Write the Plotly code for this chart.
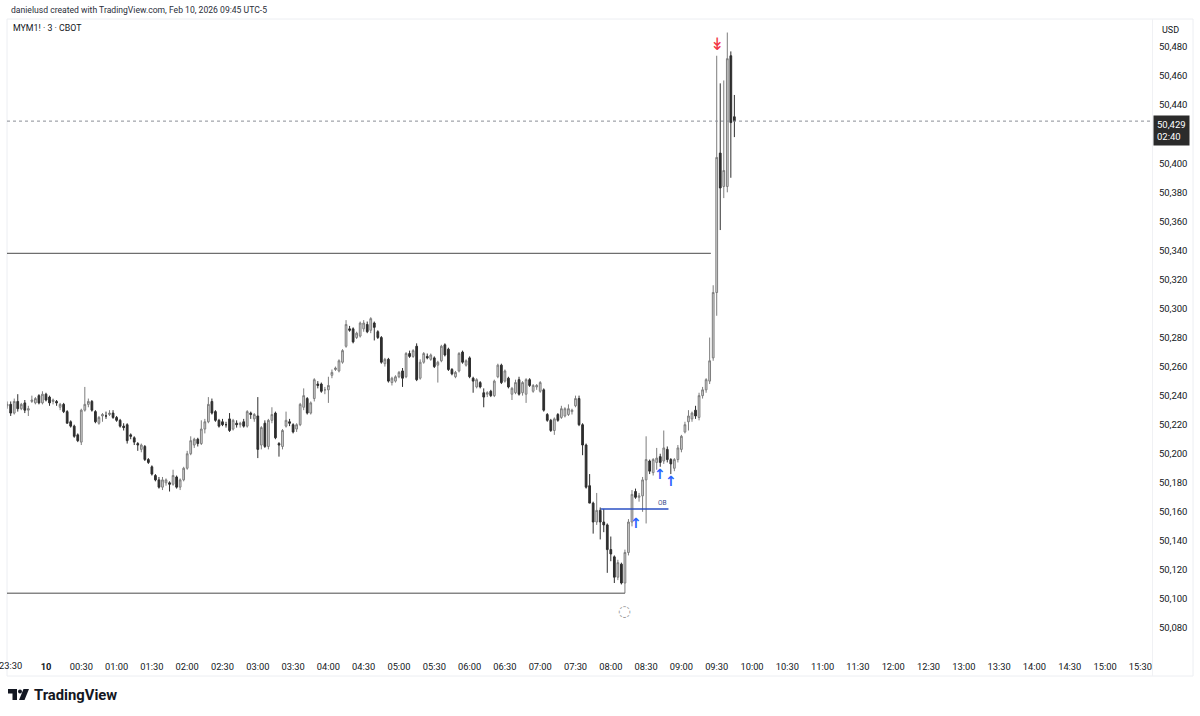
import pandas as pd
import plotly.graph_objects as go

# ---------------- data ----------------
start_time = "2026-02-09 23:27"
bar_minutes = 3

opens = [
50233,50234,50228,50236,50231,50235,50230,50236,50235,50240,50235,50241,50239,50236,50236,50232,50234,50229,50222,50219,
50213,50208,50230,50234,50236,50229,50221,50226,50226,50227,50228,50225,50223,50219,50220,50213,50211,50207,50203,50205,
50196,50191,50185,50182,50177,50180,50180,50179,50184,50177,50182,50190,50200,50206,50210,50207,50217,50222,50236,50229,
50223,50222,50220,50224,50217,50221,50220,50222,50219,50228,50224,50226,50206,50221,50205,50223,50228,50207,50205,50219,
50222,50220,50217,50220,50232,50238,50228,50238,50248,50248,50244,50244,50254,50258,50257,50263,50274,50286,50286,50280,
50281,50286,50289,50285,50290,50284,50280,50262,50265,50249,50250,50253,50257,50253,50269,50267,50274,50252,50263,50267,
50265,50266,50261,50264,50275,50272,50258,50253,50257,50270,50261,50266,50252,50246,50249,50242,50241,50243,50240,50253,
50261,50250,50252,50241,50242,50251,50242,50241,50251,50243,50246,50243,50244,50227,50223,50216,50227,50225,50226,50227,
50229,50233,50238,50220,50206,50178,50166,50153,50161,50153,50151,50134,50129,50115,50124,50111,50132,50153,50174,50170,
50171,50182,50195,50187,50194,50198,50195,50203,50196,50190,50196,50203,50215,50222,50224,50230,50225,50240,50244,50250,
50266,50311,50407,50384,50384,50474,50432]
highs = [
50236,50236,50238,50241,50235,50237,50233,50240,50239,50241,50243,50242,50240,50238,50237,50235,50235,50230,50223,50220,
50214,50231,50246,50238,50237,50230,50226,50228,50229,50230,50230,50226,50224,50221,50221,50214,50212,50208,50207,50206,
50197,50192,50186,50184,50184,50183,50181,50189,50185,50183,50191,50202,50212,50211,50211,50223,50224,50239,50238,50230,
50224,50224,50222,50228,50224,50223,50222,50224,50230,50229,50228,50239,50219,50223,50224,50232,50229,50208,50217,50229,
50224,50221,50221,50235,50245,50239,50236,50252,50250,50249,50246,50253,50258,50260,50265,50272,50292,50288,50287,50284,
50291,50292,50291,50294,50291,50285,50281,50266,50266,50253,50254,50257,50259,50270,50271,50272,50276,50265,50270,50269,
50269,50267,50264,50275,50276,50273,50259,50257,50270,50271,50265,50267,50253,50252,50250,50245,50243,50244,50251,50262,
50262,50258,50253,50246,50251,50253,50250,50252,50252,50248,50248,50250,50245,50228,50224,50225,50228,50233,50232,50234,
50231,50240,50240,50221,50207,50186,50167,50173,50163,50162,50152,50143,50130,50127,50125,50134,50155,50175,50176,50173,
50184,50212,50196,50197,50204,50200,50216,50205,50197,50197,50206,50213,50222,50230,50229,50233,50242,50246,50252,50280,
50316,50474,50455,50457,50490,50477,50447]
lows = [
50231,50226,50227,50229,50230,50228,50226,50235,50234,50234,50234,50236,50233,50234,50233,50230,50228,50221,50218,50211,
50208,50206,50229,50232,50229,50221,50220,50222,50224,50226,50224,50222,50218,50216,50207,50210,50206,50202,50201,50195,
50193,50185,50181,50176,50175,50178,50174,50178,50176,50175,50181,50189,50199,50204,50205,50206,50214,50221,50227,50222,
50218,50219,50218,50215,50216,50218,50218,50218,50218,50224,50222,50197,50203,50204,50203,50221,50210,50198,50203,50218,
50219,50214,50215,50219,50230,50227,50227,50236,50245,50242,50241,50235,50252,50257,50256,50262,50273,50284,50276,50279,
50280,50284,50283,50283,50278,50279,50262,50260,50249,50247,50249,50252,50246,50252,50266,50266,50250,50251,50262,50265,
50264,50259,50249,50263,50267,50257,50254,50252,50256,50262,50260,50252,50242,50245,50245,50232,50239,50239,50239,50252,
50248,50249,50245,50237,50241,50240,50240,50235,50246,50242,50244,50242,50229,50222,50215,50213,50222,50224,50225,50226,
50227,50232,50219,50199,50176,50166,50145,50151,50141,50146,50118,50126,50111,50113,50110,50104,50130,50150,50169,50167,
50160,50152,50186,50185,50189,50191,50193,50194,50186,50188,50194,50201,50214,50216,50222,50224,50223,50238,50242,50248,
50264,50295,50354,50376,50380,50390,50418]
closes = [
50234,50228,50236,50231,50234,50230,50231,50237,50238,50235,50241,50237,50235,50237,50235,50234,50229,50221,50219,50212,
50209,50230,50234,50236,50230,50222,50225,50227,50226,50228,50225,50223,50219,50218,50209,50212,50208,50206,50206,50196,
50194,50186,50182,50177,50182,50182,50179,50185,50177,50182,50190,50200,50209,50210,50207,50217,50222,50234,50228,50223,
50219,50220,50220,50216,50223,50220,50221,50219,50229,50227,50227,50203,50218,50205,50223,50227,50211,50206,50216,50223,
50221,50215,50220,50234,50240,50228,50235,50251,50247,50243,50244,50247,50256,50259,50264,50271,50289,50285,50277,50283,
50290,50290,50284,50293,50287,50280,50263,50265,50250,50252,50253,50256,50252,50269,50267,50271,50251,50263,50269,50266,
50268,50260,50263,50274,50268,50258,50255,50256,50269,50263,50264,50253,50250,50251,50246,50239,50242,50240,50250,50261,
50249,50257,50246,50245,50249,50241,50249,50251,50247,50247,50247,50249,50230,50223,50216,50224,50223,50231,50231,50231,
50230,50238,50220,50206,50177,50166,50153,50161,50153,50151,50134,50131,50115,50125,50111,50132,50153,50172,50170,50171,
50182,50196,50188,50196,50197,50194,50204,50196,50193,50196,50204,50212,50220,50226,50228,50226,50240,50244,50251,50264,
50311,50404,50383,50395,50472,50428,50429]

price_ticks = [50080, 50100, 50120, 50140, 50160, 50180, 50200, 50220, 50240, 50260,
               50280, 50300, 50320, 50340, 50360, 50380, 50400, 50440, 50460, 50480]
time_tick_labels = ["<b>10</b>", "00:30", "01:00", "01:30", "02:00", "02:30", "03:00",
                    "03:30", "04:00", "04:30", "05:00", "05:30", "06:00", "06:30", "07:00",
                    "07:30", "08:00", "08:30", "09:00", "09:30", "10:00", "10:30", "11:00",
                    "11:30", "12:00", "12:30", "13:00", "13:30", "14:00", "14:30", "15:00", "15:30"]
edge_tick_label = "23:30"
edge_tick_time = "2026-02-09 23:30"

last_price = 50429
countdown = "02:40"
upper_level = 50338
upper_level_end = "2026-02-10 09:25"
lower_level = 50104
lower_level_end = "2026-02-10 08:12"
ob_level = 50162
ob_start = "2026-02-10 07:51:30"
ob_end = "2026-02-10 08:49"
buy_signal_times = ["2026-02-10 08:21", "2026-02-10 08:42", "2026-02-10 08:51"]
buy_signal_prices = [50152, 50186, 50181]
sell_signal_time = "2026-02-10 09:30"
sell_signal_price = 50482
pivot_time = "2026-02-10 08:12"
pivot_price = 50092

x_range = ["2026-02-09 23:26:52", "2026-02-10 15:39:55"]
y_range = [50063.5, 50500]

# ---------------- figure ----------------
times = pd.date_range(start_time, periods=len(closes), freq=f"{bar_minutes}min")
tick_times = pd.date_range("2026-02-10 00:00", periods=len(time_tick_labels), freq="30min")

W, H = 1200, 716
ML, MR, MT, MB = 7, 48, 18, 64
PW, PH = W - ML - MR, H - MT - MB


def px(xp):
    return (xp - ML) / PW


def py(yp):
    return (H - MB - yp) / PH


FONT = "Roboto, 'Noto Sans', sans-serif"
TXT = "#131722"

fig = go.Figure()
fig.add_trace(go.Candlestick(
    x=times, open=opens, high=highs, low=lows, close=closes,
    increasing=dict(line=dict(color="#7d7d7d", width=1), fillcolor="#d7d7d7"),
    decreasing=dict(line=dict(color="#2e2e2e", width=1), fillcolor="#2e2e2e"),
    whiskerwidth=0, showlegend=False, hoverinfo="skip",
))

shapes = [
    dict(type="line", xref="x", yref="y", x0=x_range[0], x1=upper_level_end,
         y0=upper_level, y1=upper_level, line=dict(color="#4a4a4a", width=1)),
    dict(type="line", xref="x", yref="y", x0=x_range[0], x1=lower_level_end,
         y0=lower_level, y1=lower_level, line=dict(color="#4a4a4a", width=1)),
    dict(type="line", xref="x", yref="y", x0=ob_start, x1=ob_end,
         y0=ob_level, y1=ob_level, line=dict(color="#2b50c4", width=1.5)),
    dict(type="line", xref="paper", yref="y", x0=0, x1=1,
         y0=last_price, y1=last_price, line=dict(color="#8a8d96", width=1, dash="dot")),
    # frame
    dict(type="rect", xref="paper", yref="paper", x0=px(7), x1=px(1193), y0=py(676), y1=py(19),
         line=dict(color="#eceef2", width=1), layer="below"),
    dict(type="line", xref="paper", yref="paper", x0=px(1152.5), x1=px(1152.5), y0=py(676), y1=py(19),
         line=dict(color="#f0f1f4", width=1), layer="below"),
    # TradingView logo glyph
    dict(type="path", xref="paper", yref="paper",
         path=f"M {px(8)} {py(689)} L {px(17)} {py(689)} L {px(17)} {py(700)} L {px(12.5)} {py(700)} "
              f"L {px(12.5)} {py(693.5)} L {px(8)} {py(693.5)} Z",
         fillcolor=TXT, line=dict(width=0)),
    dict(type="circle", xref="paper", yref="paper", x0=px(18), x1=px(22), y0=py(693.5), y1=py(689.5),
         fillcolor=TXT, line=dict(width=0)),
    dict(type="path", xref="paper", yref="paper",
         path=f"M {px(23.5)} {py(689)} L {px(29)} {py(689)} L {px(24.5)} {py(700)} L {px(19)} {py(700)} Z",
         fillcolor=TXT, line=dict(width=0)),
]

annotations = [
    dict(xref="paper", yref="paper", x=px(9), y=py(10), xanchor="left", yanchor="middle",
         text="danielusd created with TradingView.com, Feb 10, 2026 09:45 UTC-5",
         showarrow=False, font=dict(size=8.6, color="#2a2e39", family=FONT)),
    dict(xref="paper", yref="paper", x=px(11), y=py(28), xanchor="left", yanchor="middle",
         text="MYM1! · 3 · CBOT", showarrow=False, font=dict(size=8.8, color=TXT, family=FONT)),
    dict(xref="paper", yref="paper", x=px(1170.5), y=py(30), xanchor="center", yanchor="middle",
         text="USD", showarrow=False, font=dict(size=9, color=TXT, family=FONT)),
    dict(xref="paper", yref="paper", x=px(32), y=py(695), xanchor="left", yanchor="middle",
         text="<b>TradingView</b>", showarrow=False, font=dict(size=14.8, color=TXT, family=FONT)),
    dict(xref="x", yref="paper", x=edge_tick_time, y=py(665.5), xanchor="center", yanchor="middle",
         text=edge_tick_label, showarrow=False, font=dict(size=9.3, color=TXT, family=FONT)),
    dict(xref="paper", yref="y", x=px(1153), y=last_price + 4.5, xanchor="left", yanchor="top",
         text=f"{last_price:,}<br>{countdown}", showarrow=False, align="left",
         bgcolor="#2b2b2b", borderpad=3,
         font=dict(size=9.5, color="#ffffff", family=FONT)),
    dict(xref="x", yref="y", x=sell_signal_time, y=sell_signal_price, text="↡",
         showarrow=False, font=dict(size=17, color="#f23645", family="DejaVu Sans")),
    dict(xref="x", yref="y", x=pivot_time, y=pivot_price, text="◌",
         showarrow=False, font=dict(size=15, color="#9e9e9e", family="DejaVu Sans")),
    dict(xref="x", yref="y", x="2026-02-10 08:43:30", y=ob_level + 4, text="OB",
         showarrow=False, font=dict(size=6.5, color="#3a4a8a", family=FONT)),
]
for t, p in zip(buy_signal_times, buy_signal_prices):
    annotations.append(dict(xref="x", yref="y", x=t, y=p, text="<b>↑</b>", showarrow=False,
                            font=dict(size=14, color="#2962ff", family="DejaVu Sans")))

fig.update_layout(
    width=W, height=H,
    margin=dict(l=ML, r=MR, t=MT, b=MB, pad=0, autoexpand=False),
    paper_bgcolor="#ffffff", plot_bgcolor="#ffffff",
    font=dict(family=FONT, size=9.5, color=TXT),
    shapes=shapes, annotations=annotations,
    xaxis=dict(type="date", range=x_range, rangeslider=dict(visible=False),
               showgrid=False, zeroline=False, showline=False, automargin=False,
               tickvals=tick_times, ticktext=time_tick_labels,
               ticks="outside", ticklen=6, tickcolor="rgba(0,0,0,0)",
               tickfont=dict(size=9.3, color=TXT, family=FONT)),
    yaxis=dict(range=y_range, side="right", showgrid=False, zeroline=False, showline=False,
               automargin=False,
               tickvals=price_ticks, tickformat=",d",
               ticks="outside", ticklen=4, tickcolor="rgba(0,0,0,0)",
               tickfont=dict(size=9.5, color=TXT, family=FONT)),
    hovermode=False,
)

fig.write_html("out.html", post_script="document.body.style.margin='0';",
               config=dict(displayModeBar=False))
